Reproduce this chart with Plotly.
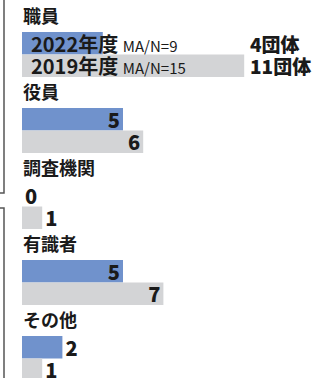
import plotly.graph_objects as go

# Survey respondents by type (number of organisations), two survey years
categories = ["職員", "役員", "調査機関", "有識者", "その他"]
values_2022 = [4, 5, 0, 5, 2]
values_2019 = [11, 6, 1, 7, 1]
years = ["2022年度", "2019年度"]
sample_notes = ["MA/N=9", "MA/N=15"]
unit = "団体"

BLUE = "#7092CC"
GREY = "#D3D4D6"
INK = "#1a1a1a"
FONT = "Noto Sans CJK JP"

W, H = 320, 378
PX_PER_UNIT = 20.2      # horizontal scale
X0_PX = 22              # pixel position of value 0
SLOT_PX = 76            # height of one category block
TOP_PX = 32             # top of the first bar
BAR_PX = 22.5           # thickness of one bar

bw = BAR_PX / SLOT_PX
idx = list(range(len(categories)))


def bar_text(vals):
    # the first category carries the legend text instead of its value
    return ["" if i == 0 else str(v) for i, v in enumerate(vals)]


def bar_pos(vals):
    return ["inside" if v >= 5 else "outside" for v in vals]


fig = go.Figure()
for vals, color, off in [(values_2022, BLUE, 0.0), (values_2019, GREY, bw)]:
    fig.add_trace(go.Bar(
        x=vals, y=idx, orientation="h",
        width=bw, offset=off,
        marker=dict(color=color, line=dict(width=0)),
        text=bar_text(vals), textposition=bar_pos(vals), textangle=0,
        insidetextanchor="end", constraintext="none", cliponaxis=False,
        textfont=dict(family=FONT, size=20, color=INK, weight=900),
        hoverinfo="skip",
    ))

annotations = []
# category headings above each pair of bars
for i, name in enumerate(categories):
    annotations.append(dict(
        x=0, y=i, xref="x", yref="y", text=name,
        xanchor="left", yanchor="middle", xshift=-1, yshift=17,
        showarrow=False, font=dict(family=FONT, size=18, color=INK, weight=700),
    ))

# legend text on the first pair: year + sample size inside, count at the right
first_vals = [values_2022[0], values_2019[0]]
for j, (yr, note, v) in enumerate(zip(years, sample_notes, first_vals)):
    yc = j * bw + bw / 2
    annotations.append(dict(
        x=0, y=yc, xref="x", yref="y",
        text=f"<b>{yr}</b> <span style='font-size:15px;font-weight:400'>{note}</span>",
        xanchor="left", yanchor="middle", xshift=7,
        showarrow=False, font=dict(family=FONT, size=20, color=INK, weight=900),
    ))
    annotations.append(dict(
        x=max(first_vals), y=yc, xref="x", yref="y",
        text=f"{v}{unit}",
        xanchor="left", yanchor="middle", xshift=4,
        showarrow=False, font=dict(family=FONT, size=19, color=INK, weight=900),
    ))

# edges of the neighbouring panels on the left
edge = dict(type="rect", xref="paper", yref="paper",
            line=dict(color="#555555", width=1.5), fillcolor="rgba(0,0,0,0)")
shapes = [
    dict(edge, x0=-0.1, x1=4 / W, y0=1 - 193 / H, y1=1.1),
    dict(edge, x0=-0.1, x1=4 / W, y0=-0.1, y1=1 - 208 / H),
]

fig.update_layout(
    width=W, height=H,
    margin=dict(l=0, r=0, t=0, b=0),
    paper_bgcolor="white", plot_bgcolor="white",
    barmode="overlay", showlegend=False,
    xaxis=dict(range=[-X0_PX / PX_PER_UNIT, (W - X0_PX) / PX_PER_UNIT],
               visible=False, fixedrange=True),
    yaxis=dict(range=[(H - TOP_PX) / SLOT_PX, -TOP_PX / SLOT_PX],
               visible=False, fixedrange=True),
    annotations=annotations, shapes=shapes,
    uniformtext=dict(mode=False),
)

fig.write_html("out.html", config={"displayModeBar": False})
